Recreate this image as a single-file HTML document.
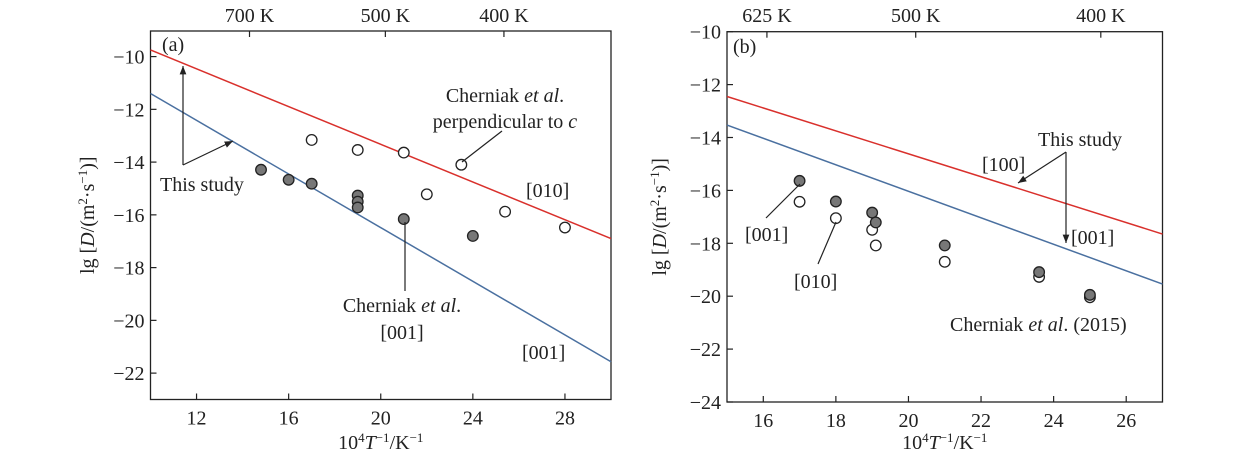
<!DOCTYPE html>
<html><head><meta charset="utf-8"><style>
body{margin:0;background:#fff}
svg{display:block;font-family:"Liberation Serif",serif;}
</style></head><body>
<svg id="c" width="1260" height="464" viewBox="0 0 1260 464"></svg>
<script>
// Panel (a) data
const aXTicks=[12,16,20,24,28];
const aYTicks=[-10,-12,-14,-16,-18,-20,-22];
const aTopTickVals=[14.3,20.2,25.35];
const aTopTickLabels=["700 K","500 K","400 K"];
const aRedLine=[[10,-9.75],[30,-16.9]];
const aBlueLine=[[10,-11.4],[30,-21.57]];
const aFilledX=[14.8,16,17,19,19,19,21,24];
const aFilledY=[-14.29,-14.67,-14.82,-15.27,-15.5,-15.72,-16.16,-16.8];
const aOpenX=[17,19,21,23.5,22,25.4,28];
const aOpenY=[-13.16,-13.54,-13.64,-14.1,-15.22,-15.88,-16.48];
// Panel (b) data
const bXTicks=[16,18,20,22,24,26];
const bYTicks=[-10,-12,-14,-16,-18,-20,-22,-24];
const bTopTickVals=[16.1,20.2,25.3];
const bTopTickLabels=["625 K","500 K","400 K"];
const bRedLine=[[15,-12.45],[27,-17.65]];
const bBlueLine=[[15,-13.53],[27,-19.54]];
const bFilledX=[17,18,19,19.1,21,23.6,25];
const bFilledY=[-15.64,-16.42,-16.84,-17.21,-18.08,-19.09,-19.95];
const bOpenX=[17,18,19,19.1,21,23.6,25];
const bOpenY=[-16.43,-17.05,-17.49,-18.08,-18.7,-19.27,-20.04];

const FS=20;
const svg=document.getElementById('c');
const NS='http://www.w3.org/2000/svg';
function mk(tag,attrs,parent,text){const e=document.createElementNS(NS,tag);for(const k in attrs)e.setAttribute(k,attrs[k]);if(text!==undefined)e.innerHTML=text;(parent||svg).appendChild(e);return e;}

const defs=mk('defs',{});
const mkr=mk('marker',{id:'ah',viewBox:'0 0 10 10',refX:'10',refY:'5',markerWidth:'7',markerHeight:'7',orient:'auto-start-reverse'},defs);
mk('path',{d:'M0,1 L10,5 L0,9 z',fill:'#222'},mkr);

function panel(o){
  const g=mk('g',{});
  
  
  const X=v=>o.x0+(v-o.xd[0])/(o.xd[1]-o.xd[0])*(o.x1-o.x0);
  const Y=v=>o.y1-(v-o.yd[0])/(o.yd[1]-o.yd[0])*(o.y1-o.y0);
  const frame=mk('rect',{x:o.x0,y:o.y0,width:o.x1-o.x0,height:o.y1-o.y0,fill:'none',stroke:'#222','stroke-width':1.3},g);
  
  
  o.xt.forEach(v=>{
    mk('line',{x1:X(v),x2:X(v),y1:o.y1,y2:o.y1-6,stroke:'#222','stroke-width':1.2},g);
    const t=mk('text',{x:X(v),y:o.y1+25,'text-anchor':'middle','font-size':FS,fill:'#222'},g,v);
    
    
  });
  o.yt.forEach(v=>{
    mk('line',{x1:o.x0,x2:o.x0+6,y1:Y(v),y2:Y(v),stroke:'#222','stroke-width':1.2},g);
    const t=mk('text',{x:o.x0-6,y:Y(v)+7,'text-anchor':'end','font-size':FS,fill:'#222'},g,'\u2212'+Math.abs(v));
    
    
  });
  o.tt.forEach((v,i)=>{
    mk('line',{x1:X(v),x2:X(v),y1:o.y0,y2:o.y0+6,stroke:'#222','stroke-width':1.2},g);
    const t=mk('text',{x:X(v),y:22,'text-anchor':'middle','font-size':FS,fill:'#222'},g,o.tl[i]);
    
    
  });
  const r=mk('line',{x1:X(o.red[0][0]),y1:Y(o.red[0][1]),x2:X(o.red[1][0]),y2:Y(o.red[1][1]),stroke:'#d9302c','stroke-width':1.5},g);
  
  
  const b=mk('line',{x1:X(o.blue[0][0]),y1:Y(o.blue[0][1]),x2:X(o.blue[1][0]),y2:Y(o.blue[1][1]),stroke:'#4a70a0','stroke-width':1.5},g);
  
  
  o.ox.forEach((v,i)=>{
    const c=mk('circle',{cx:X(v),cy:Y(o.oy[i]),r:5.3,fill:'#fff',stroke:'#222','stroke-width':1.3},g);
    
    
  });
  o.fx.forEach((v,i)=>{
    const c=mk('circle',{cx:X(v),cy:Y(o.fy[i]),r:5.3,fill:'#777',stroke:'#222','stroke-width':1.3},g);
    
    
  });
  const yl=mk('text',{transform:`translate(${o.ylx},${(o.y0+o.y1)/2}) rotate(-90)`,'text-anchor':'middle','font-size':FS,fill:'#222'},g,'lg [<tspan font-style="italic">D</tspan>/(m<tspan dy="-7" font-size="13">2</tspan><tspan dy="7">·s</tspan><tspan dy="-7" font-size="13">−1</tspan><tspan dy="7">)]</tspan>');
  
  
  const xl=mk('text',{x:(o.x0+o.x1)/2,y:449,'text-anchor':'middle','font-size':FS,fill:'#222'},g,'10<tspan dy="-7" font-size="13">4</tspan><tspan dy="7" font-style="italic">T</tspan><tspan dy="-7" font-size="13">−1</tspan><tspan dy="7">/K</tspan><tspan dy="-7" font-size="13">−1</tspan>');
  
  
  return g;
}
const ga=panel({name:'panel-a',x0:150.5,x1:611,y0:31,y1:399.5,xd:[10,30],yd:[-23,-9.03],xt:aXTicks,yt:aYTicks,tt:aTopTickVals,tl:aTopTickLabels,red:aRedLine,blue:aBlueLine,fx:aFilledX,fy:aFilledY,ox:aOpenX,oy:aOpenY,ylx:94});
const gb=panel({name:'panel-b',x0:727,x1:1162.5,y0:31.7,y1:402,xd:[15,27],yd:[-24,-10],xt:bXTicks,yt:bYTicks,tt:bTopTickVals,tl:bTopTickLabels,red:bRedLine,blue:bBlueLine,fx:bFilledX,fy:bFilledY,ox:bOpenX,oy:bOpenY,ylx:666});

function txt(x,y,s,anchor,name,parent){const t=mk('text',{x:x,y:y,'text-anchor':anchor||'start','font-size':FS,fill:'#222'},parent,s);return t;}
function ln(x1,y1,x2,y2,arrow,parent){const l=mk('line',{x1:x1,y1:y1,x2:x2,y2:y2,stroke:'#222','stroke-width':1.2},parent);if(arrow)l.setAttribute('marker-end','url(#ah)');return l;}
// panel a annotations
txt(162,51,'(a)','start','panel-a-label',ga);
ln(183,165,183,66,true,ga);ln(183,165,233,141,true,ga);
txt(160,191,'This study','start','this-study-label',ga);
txt(505,102,'Cherniak <tspan font-style="italic">et al</tspan>.','middle','cherniak-perp-label',ga);
txt(505,128,'perpendicular to <tspan font-style="italic">c</tspan>','middle','cherniak-perp-label-2',ga);
ln(462,162,502,131,false,ga);
txt(526,197,'[010]','start','label-010',ga);
ln(405,222,405,291,false,ga);
txt(402,312,'Cherniak <tspan font-style="italic">et al</tspan>.','middle','cherniak-001-label',ga);
txt(402,339,'[001]','middle','cherniak-001-label-2',ga);
txt(522,359,'[001]','start','label-001',ga);
// panel b annotations
txt(733,53,'(b)','start','panel-b-label',gb);
txt(1080,146,'This study','middle','this-study-label',gb);
ln(1066,152,1018,183,true,gb);ln(1066,152,1066,243,true,gb);
txt(982,171,'[100]','start','label-100',gb);
txt(1071,244,'[001]','start','label-001',gb);
txt(950,331,'Cherniak <tspan font-style="italic">et al</tspan>. (2015)','start','cherniak-2015-label',gb);
txt(745,241,'[001]','start','label-001-points',gb);
ln(766,218,800,184,false,gb);
txt(794,288,'[010]','start','label-010-points',gb);
ln(818,264,836,222,false,gb);
</script>
</body></html>
